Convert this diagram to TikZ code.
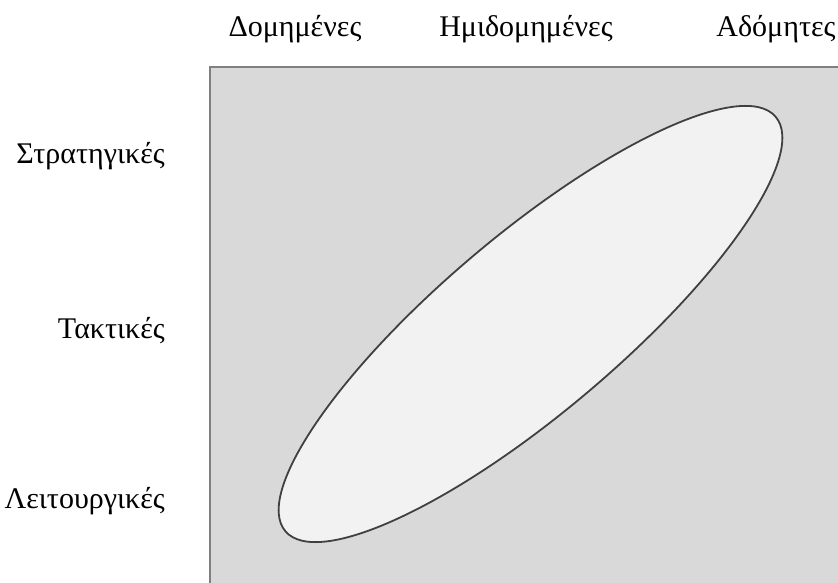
\documentclass[tikz,border=0pt]{standalone}
\usepackage{fontspec}
\setmainfont{Liberation Serif}
\begin{document}
\begin{tikzpicture}[x=1pt,y=1pt,
  lbl/.style={font=\fontsize{30}{34}\selectfont, inner sep=0pt},
  rowlbl/.style={lbl, anchor=base east},
  collbl/.style={lbl, anchor=base}]
\useasboundingbox (0,0) rectangle (838,582);
\node[draw=black!50, line width=1.8pt, fill=black!15, minimum width=640pt, minimum height=520pt, anchor=south west, inner sep=0pt] (box) at (209,-6) {};
\path[draw=black!75, line width=1.8pt, fill=black!5] (530.5,258) coordinate (ec) ellipse [x radius=321, y radius=89, rotate=40.2];
\node[collbl] (c1) at (295,545) {Δομημένες};
\node[collbl] (c2) at (526,545) {Ημιδομημένες};
\node[collbl] (c3) at (776,545) {Αδόμητες};
\node[rowlbl] (r1) at (165,418) {Στρατηγικές};
\node[rowlbl] (r2) at (165,244) {Τακτικές};
\node[rowlbl] (r3) at (165,74) {Λειτουργικές};
\end{tikzpicture}
\end{document}
